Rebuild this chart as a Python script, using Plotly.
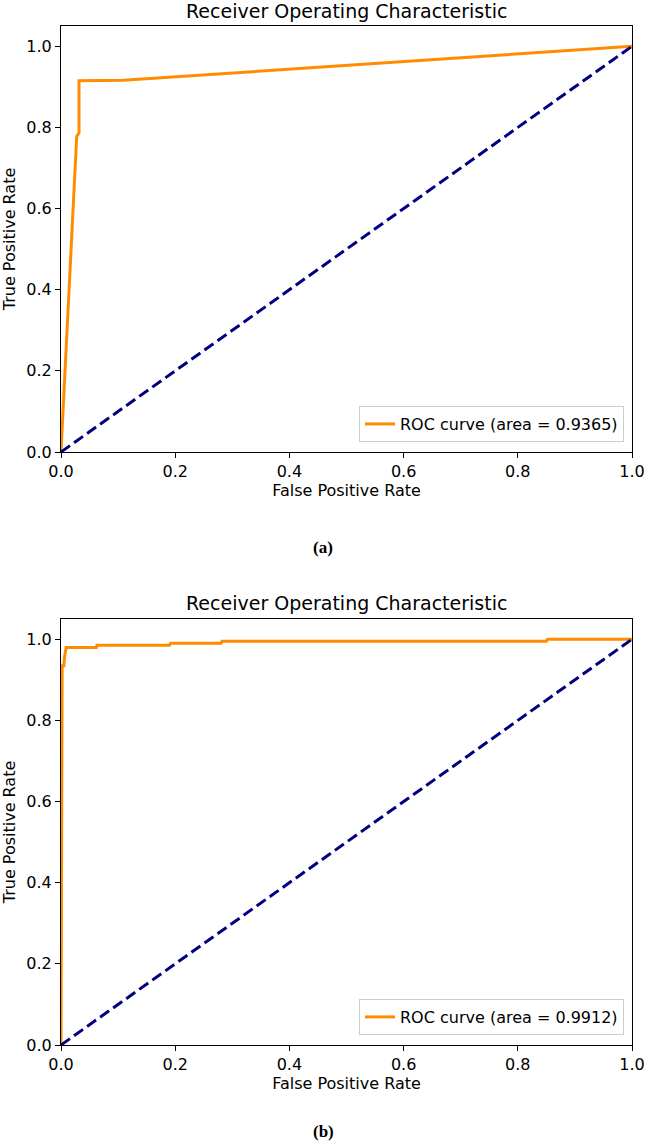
import plotly.graph_objects as go

# ---- data ----
fpr_a = [0.0, 0.026, 0.0275, 0.0315, 0.0315, 0.109, 1.0]
tpr_a = [0.0, 0.729, 0.778, 0.787, 0.915, 0.916, 1.0]
auc_a = 0.9365

fpr_b = [0.0, 0.001, 0.002, 0.005, 0.006, 0.009, 0.062, 0.063, 0.19, 0.192, 0.28, 0.282, 0.85, 0.852, 1.0]
tpr_b = [0.0, 0.5, 0.935, 0.935, 0.955, 0.98, 0.98, 0.985, 0.985, 0.99, 0.99, 0.995, 0.995, 1.0, 1.0]
auc_b = 0.9912

diag = [0.0, 1.0]
tick_vals = [0.0, 0.2, 0.4, 0.6, 0.8, 1.0]
tick_text = ["0.0", "0.2", "0.4", "0.6", "0.8", "1.0"]
title_text = "Receiver Operating Characteristic"
panel_labels = ["(a)", "(b)"]

W, H = 645, 1146
FONT = "DejaVu Sans"

def py(p):  # page pixel y -> paper y
    return 1 - p / H

def px(p):  # page pixel x -> paper x
    return p / W

fig = go.Figure()

fig.add_trace(go.Scatter(x=fpr_a, y=tpr_a, mode="lines",
                         line=dict(color="#FF8C00", width=3),
                         name=f"ROC curve (area = {auc_a:.4f})",
                         xaxis="x", yaxis="y", legend="legend"))
fig.add_trace(go.Scatter(x=diag, y=diag, mode="lines",
                         line=dict(color="#000080", width=3, dash="11px,5px"),
                         showlegend=False, xaxis="x", yaxis="y"))
fig.add_trace(go.Scatter(x=fpr_b, y=tpr_b, mode="lines",
                         line=dict(color="#FF8C00", width=3),
                         name=f"ROC curve (area = {auc_b:.4f})",
                         xaxis="x2", yaxis="y2", legend="legend2"))
fig.add_trace(go.Scatter(x=diag, y=diag, mode="lines",
                         line=dict(color="#000080", width=3, dash="11px,5px"),
                         showlegend=False, xaxis="x2", yaxis="y2"))

xdom = [px(61), px(632)]
ydom_a = [py(452), py(26)]
ydom_b = [py(1045), py(619)]

axis_common = dict(showline=True, mirror=True, linecolor="black", linewidth=1,
                   ticks="outside", ticklen=5, tickwidth=1, tickcolor="black",
                   showgrid=False, zeroline=False, automargin=False,
                   tickvals=tick_vals, ticktext=tick_text,
                   tickfont=dict(family=FONT, size=16, color="black"))

fig.update_layout(
    width=W, height=H,
    margin=dict(l=0, r=0, t=0, b=0),
    plot_bgcolor="white", paper_bgcolor="white",
    font=dict(family=FONT, size=16, color="black"),
    xaxis=dict(domain=xdom, range=[0, 1], anchor="y",
               title=dict(text="False Positive Rate", font=dict(size=16), standoff=4),
               **axis_common),
    yaxis=dict(domain=ydom_a, range=[0, 1.05], anchor="x",
               title=dict(text="True Positive Rate", font=dict(size=16), standoff=9),
               **axis_common),
    xaxis2=dict(domain=xdom, range=[0, 1], anchor="y2",
                title=dict(text="False Positive Rate", font=dict(size=16), standoff=4),
                **axis_common),
    yaxis2=dict(domain=ydom_b, range=[0, 1.05], anchor="x2",
                title=dict(text="True Positive Rate", font=dict(size=16), standoff=9),
                **axis_common),
    legend=dict(x=px(624), xanchor="right", y=py(442), yanchor="bottom",
                bgcolor="rgba(255,255,255,0.8)", bordercolor="#cccccc", borderwidth=1,
                font=dict(family=FONT, size=16, color="black"), itemwidth=30,
                tracegroupgap=0),
    legend2=dict(x=px(624), xanchor="right", y=py(1035), yanchor="bottom",
                 bgcolor="rgba(255,255,255,0.8)", bordercolor="#cccccc", borderwidth=1,
                 font=dict(family=FONT, size=16, color="black"), itemwidth=30,
                 tracegroupgap=0),
    annotations=[
        dict(text=title_text, x=(xdom[0] + xdom[1]) / 2, y=py(11), xref="paper", yref="paper",
             showarrow=False, font=dict(family=FONT, size=19, color="black"), yanchor="middle"),
        dict(text=title_text, x=(xdom[0] + xdom[1]) / 2, y=py(603), xref="paper", yref="paper",
             showarrow=False, font=dict(family=FONT, size=19, color="black"), yanchor="middle"),
        dict(text=f"<b>{panel_labels[0]}</b>", x=px(323), y=py(547), xref="paper", yref="paper",
             showarrow=False, font=dict(family="Liberation Serif", size=17, color="black"),
             yanchor="middle"),
        dict(text=f"<b>{panel_labels[1]}</b>", x=px(323), y=py(1131), xref="paper", yref="paper",
             showarrow=False, font=dict(family="Liberation Serif", size=17, color="black"),
             yanchor="middle"),
    ],
)

fig.write_html("out.html",
               config={"displayModeBar": False},
               post_script="document.body.style.margin='0';document.body.style.overflow='hidden';")
